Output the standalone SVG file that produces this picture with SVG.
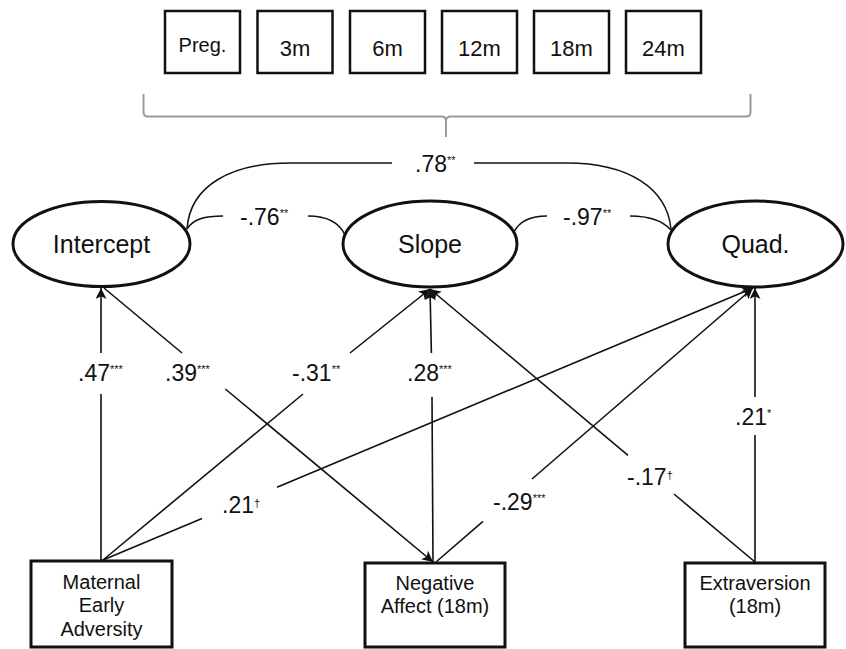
<svg xmlns="http://www.w3.org/2000/svg" width="846" height="649" viewBox="0 0 846 649">
<defs>
<style>
text{font-family:"Liberation Sans",Arial,sans-serif;fill:#111;}
.tb{fill:#fff;stroke:#111;stroke-width:2.5;}
.bb{fill:#fff;stroke:#111;stroke-width:3;}
.el{fill:#fff;stroke:#111;stroke-width:3;}
.tt{font-size:22px;text-anchor:middle;}
.et{font-size:25px;text-anchor:middle;}
.bt{font-size:20px;text-anchor:middle;}
.lb{font-size:23px;}
.sp{font-size:11px;}
.ln{fill:none;stroke:#111;stroke-width:1.6;}
.ar{marker-end:url(#arr);}
.cor{fill:none;stroke:#111;stroke-width:1.5;}
.br{fill:none;stroke:#9a9a9a;stroke-width:2;}
</style>
<marker id="arr" viewBox="0 0 10 10" refX="10" refY="5" markerWidth="11" markerHeight="11" markerUnits="userSpaceOnUse" orient="auto">
<path d="M0,0 L10,5 L0,10 L2.5,5 Z" fill="#111"/>
</marker>
</defs>
<rect width="846" height="649" fill="#fff"/>

<g id="timepoints">
<g id="box-preg"><rect class="tb" x="165" y="11" width="75" height="62"/><text class="tt" x="202.5" y="52" style="font-size:20px">Preg.</text></g>
<g id="box-3m"><rect class="tb" x="257.5" y="11" width="75" height="62"/><text class="tt" x="295" y="56">3m</text></g>
<g id="box-6m"><rect class="tb" x="350" y="11" width="75" height="62"/><text class="tt" x="387.5" y="56">6m</text></g>
<g id="box-12m"><rect class="tb" x="442" y="11" width="75" height="62"/><text class="tt" x="479.5" y="56">12m</text></g>
<g id="box-18m"><rect class="tb" x="534" y="11" width="75" height="62"/><text class="tt" x="571.5" y="56">18m</text></g>
<g id="box-24m"><rect class="tb" x="626" y="11" width="75" height="62"/><text class="tt" x="663.5" y="56">24m</text></g>
<path id="bracket" class="br" d="M143.5,94 L143.5,112 Q143.5,116.5 148,116.5 L441.5,116.5 Q446,116.5 446,121 L446,137 M446,121 Q446,116.5 450.5,116.5 L746,116.5 Q750.5,116.5 750.5,112 L750.5,94"/>
</g>

<g id="connectors">
<!-- correlations -->
<path class="cor" d="M187,229 C190,185 232,163 290,163 L392,163"/>
<path class="cor" d="M474,163 L567,163 C628,163 667,188 671,229"/>
<path class="cor" d="M187,229 C193,219 205,216 223,216"/>
<path class="cor" d="M308,216 C326,216 339,222 345,235"/>
<path class="cor" d="M514,232 C520,220 532,216 547,216"/>
<path class="cor" d="M630,216 C648,216 662,220 671,230"/>
<!-- regressions -->
<line class="ln" x1="101" y1="560" x2="101" y2="394"/>
<line class="ln ar" x1="101" y1="353" x2="101" y2="288"/>
<line class="ln" x1="104" y1="288" x2="182" y2="353"/>
<line class="ln ar" x1="225.3" y1="389" x2="433" y2="562"/>
<line class="ln" x1="103" y1="560" x2="303" y2="394"/>
<line class="ln ar" x1="350" y1="353" x2="430" y2="289"/>
<line class="ln" x1="103" y1="560" x2="202" y2="518.6"/>
<line class="ln ar" x1="277" y1="487.2" x2="753" y2="288"/>
<line class="ln" x1="433" y1="562" x2="432" y2="397"/>
<line class="ln ar" x1="431.4" y1="353" x2="430" y2="289"/>
<line class="ln" x1="755" y1="562" x2="674" y2="494"/>
<line class="ln ar" x1="628" y1="455.3" x2="430" y2="289"/>
<line class="ln" x1="436" y1="562" x2="483" y2="521.4"/>
<line class="ln ar" x1="532" y1="479" x2="753" y2="288"/>
<line class="ln" x1="755" y1="562" x2="755" y2="435"/>
<line class="ln ar" x1="755" y1="397" x2="755" y2="288"/>
<!-- labels -->
<text class="lb" x="415" y="172">.78<tspan class="sp" dy="-8">**</tspan></text>
<text class="lb" x="240" y="225">-.76<tspan class="sp" dy="-8">**</tspan></text>
<text class="lb" x="563" y="225">-.97<tspan class="sp" dy="-8">**</tspan></text>
<text class="lb" x="78" y="381">.47<tspan class="sp" dy="-8">***</tspan></text>
<text class="lb" x="165" y="381">.39<tspan class="sp" dy="-8">***</tspan></text>
<text class="lb" x="292" y="381">-.31<tspan class="sp" dy="-8">**</tspan></text>
<text class="lb" x="407" y="381">.28<tspan class="sp" dy="-8">***</tspan></text>
<text class="lb" x="222" y="513">.21<tspan class="sp" dy="-6">†</tspan></text>
<text class="lb" x="493" y="510">-.29<tspan class="sp" dy="-8">***</tspan></text>
<text class="lb" x="627" y="485">-.17<tspan class="sp" dy="-6">†</tspan></text>
<text class="lb" x="735" y="425">.21<tspan class="sp" dy="-8">*</tspan></text>
</g>

<g id="intercept"><ellipse class="el" cx="101.5" cy="244" rx="88.5" ry="42.5"/><text class="et" x="101.5" y="253">Intercept</text></g>
<g id="slope"><ellipse class="el" cx="430" cy="244" rx="87" ry="43"/><text class="et" x="430" y="253">Slope</text></g>
<g id="quad"><ellipse class="el" cx="755.5" cy="244" rx="87.5" ry="43"/><text class="et" x="755.5" y="253">Quad.</text></g>

<g id="maternal"><rect class="bb" x="31" y="561" width="141" height="86"/><text class="bt" x="101.5" y="589">Maternal</text><text class="bt" x="101.5" y="612.3">Early</text><text class="bt" x="101.5" y="636">Adversity</text></g>
<g id="negative-affect"><rect class="bb" x="365" y="563" width="140" height="84"/><text class="bt" x="435" y="590">Negative</text><text class="bt" x="435" y="613.3">Affect (18m)</text></g>
<g id="extraversion"><rect class="bb" x="685" y="563" width="140" height="84"/><text class="bt" x="755" y="590">Extraversion</text><text class="bt" x="755" y="613.3">(18m)</text></g>
</svg>
